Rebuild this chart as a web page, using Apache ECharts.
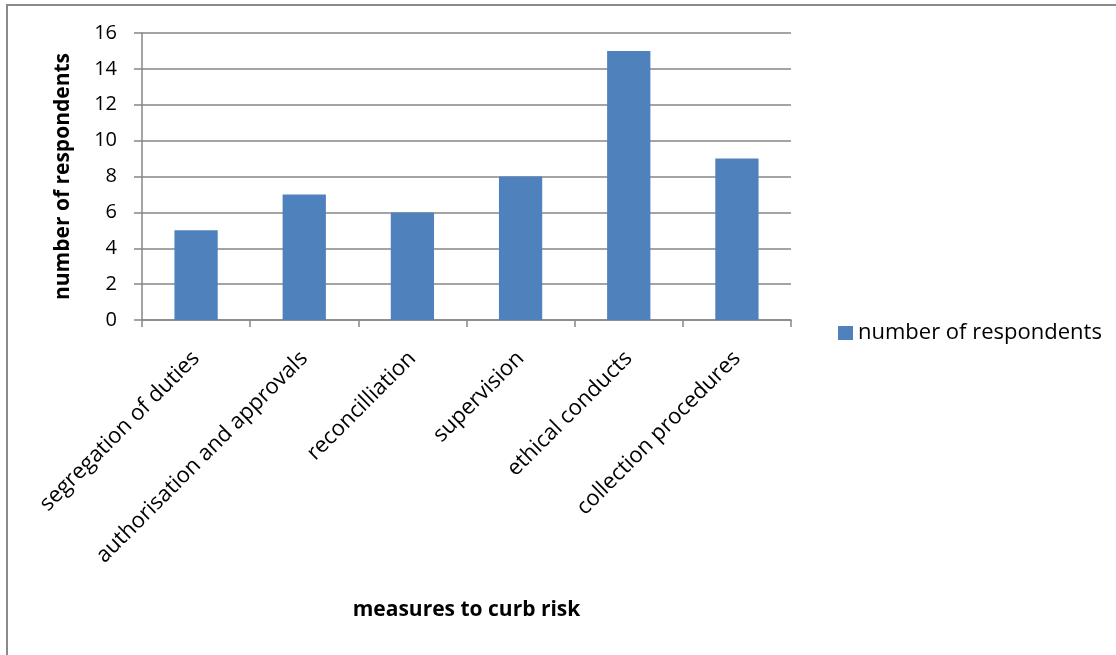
<!DOCTYPE html>
<html>
<head>
<meta charset="utf-8">
<script src="https://cdn.jsdelivr.net/npm/echarts@6/dist/echarts.min.js"></script>
<style>
html,body{margin:0;padding:0;background:#fff;}
#chart{width:1116px;height:655px;}
</style>
</head>
<body>
<div id="chart"></div>
<script>
const categories = ["segregation of duties", "authorisation and approvals", "reconcilliation", "supervision", "ethical conducts", "collection procedures"];
const respondents = [5, 7, 6, 8, 15, 9];
const seriesName = "number of respondents";
const xTitle = "measures to curb risk";
const yTitle = "number of respondents";

const FONT = "Open Sans";
const chart = echarts.init(document.getElementById('chart'));
chart.setOption({
  animation: false,
  backgroundColor: '#fff',
  textStyle: {fontFamily: FONT},
  graphic: [{
    type: 'rect', silent: true,
    shape: {x: 7, y: 5, width: 1300, height: 900},
    style: {fill: 'none', stroke: '#8a8a8a', lineWidth: 2}
  }],
  grid: {left: 142, right: 325, top: 33, bottom: 335, containLabel: false},
  legend: {
    data: [seriesName],
    left: 833, top: 317,
    icon: 'rect', itemWidth: 15, itemHeight: 14, itemGap: 6,
    textStyle: {fontFamily: FONT, fontSize: 22, color: '#000'}
  },
  xAxis: {
    type: 'category',
    data: categories,
    name: xTitle,
    nameLocation: 'middle',
    nameGap: 280,
    nameTextStyle: {fontFamily: FONT, fontSize: 21, fontWeight: 'bold', color: '#000'},
    axisLine: {lineStyle: {color: '#868686', width: 1.5}},
    axisTick: {show: true, length: 7, lineStyle: {color: '#868686', width: 1.5}},
    axisLabel: {rotate: 45, fontSize: 22, color: '#000', margin: 35, interval: 0, fontFamily: FONT}
  },
  yAxis: {
    type: 'value',
    min: 0, max: 16, interval: 2,
    name: yTitle,
    nameLocation: 'middle',
    nameRotate: 90,
    nameGap: 68,
    nameTextStyle: {fontFamily: FONT, fontSize: 21, fontWeight: 'bold', color: '#000'},
    axisLine: {show: true, lineStyle: {color: '#868686', width: 1.5}},
    axisTick: {show: true, length: 8, lineStyle: {color: '#868686', width: 1.5}},
    axisLabel: {fontSize: 20, color: '#000', margin: 25, fontFamily: FONT},
    splitLine: {lineStyle: {color: '#868686', width: 1.5}}
  },
  series: [{
    name: seriesName,
    type: 'bar',
    data: respondents,
    barCategoryGap: '60%',
    itemStyle: {color: '#4F81BD'}
  }]
});
</script>
</body>
</html>
